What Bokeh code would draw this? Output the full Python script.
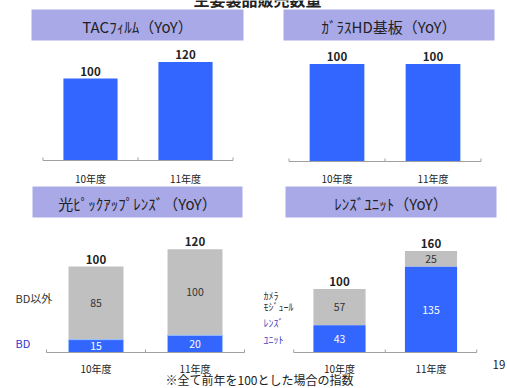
from bokeh.plotting import figure
from bokeh.models import Range1d
from bokeh.embed import file_html
from bokeh.resources import INLINE
from bokeh.core.properties import value

W, H = 507, 388
FONT = "Noto Sans CJK JP"

# ---------------- data ----------------
categories = ["10年度", "11年度"]
tac_values = [100, 120]
glass_values = [100, 100]
pickup_bd = [15, 20]
pickup_other = [85, 100]
pickup_total = [100, 120]
lens_unit = [43, 135]
camera_module = [57, 25]
lens_total = [100, 160]

panel_titles = ["TACﾌｨﾙﾑ（YoY）", "ｶﾞﾗｽHD基板（YoY）", "光ﾋﾟｯｸｱｯﾌﾟﾚﾝｽﾞ（YoY）", "ﾚﾝｽﾞﾕﾆｯﾄ（YoY）"]
main_title = "主要製品販売数量"
footnote = "※全て前年を100とした場合の指数"
page_number = "19"
pickup_series = ["BD以外", "BD"]
lens_series = [["ｶﾒﾗ", "ﾓｼﾞｭｰﾙ"], ["ﾚﾝｽﾞ", "ﾕﾆｯﾄ"]]

BLUE = "#3366ff"
GRAY = "#c0c0c0"
HEAD = "#a9a9e8"
TXT = "#222222"

p = figure(width=W, height=H, x_range=Range1d(0, W), y_range=Range1d(H, 0),
           output_backend="svg", toolbar_location=None, min_border=0)
p.axis.visible = False
p.grid.visible = False
p.outline_line_color = None
p.background_fill_color = "white"
p.border_fill_color = "white"

# panel layout: (first bar centre px, second bar centre px, baseline px from top, px per unit)
layout = {
    "p1": (90, 185, 160, 0.82),
    "p2": (336.5, 432.5, 161, 0.975),
    "p3": (95.5, 194.5, 352, 0.86),
    "p4": (339, 430.5, 352, 0.635),
}
for name, (c0, c1, base, s) in layout.items():
    u = c1 - c0
    xs = -c0 / u
    p.extra_x_ranges[name] = Range1d(xs, xs + W / u)
    p.extra_y_ranges[name] = Range1d(-(H - base) / s, base / s)

# headers (decoration in page pixels)
headers = [(31, 243, 9, 40), (283, 494, 9, 40), (32, 242, 186, 217), (285, 496, 186, 217)]
p.quad(left=[h[0] for h in headers], right=[h[1] for h in headers],
       top=[h[2] for h in headers], bottom=[h[3] for h in headers],
       fill_color=HEAD, line_color=None)
p.text(x=[(h[0] + h[1]) / 2 for h in headers], y=[(h[2] + h[3]) / 2 + 1 for h in headers],
       text=panel_titles, text_font=value(FONT), text_font_size="15px",
       text_align="center", text_baseline="middle", text_color=TXT)

p.text(x=[257], y=[-2], text=[main_title], text_font=value(FONT), text_font_size="16px",
       text_font_style="bold", text_align="center", text_baseline="middle", text_color=TXT)
p.text(x=[259], y=[379], text=[footnote], text_font=value(FONT), text_font_size="12px",
       text_align="center", text_baseline="middle", text_color=TXT)
p.text(x=[492], y=[364], text=[page_number], text_font=value(FONT), text_font_size="11.5px",
       text_align="left", text_baseline="middle", text_color=TXT)

xi = list(range(len(categories)))


def axis_and_ticks(name, scale, off):
    kw = dict(x_range_name=name, y_range_name=name)
    p.segment(x0=[-0.5], x1=[1.5], y0=[0], y1=[0], line_color="#a0a0a0", line_width=1, **kw)
    p.segment(x0=[-0.5, 0.5, 1.5], x1=[-0.5, 0.5, 1.5], y0=[0] * 3, y1=[3 / scale] * 3,
              line_color="#a0a0a0", line_width=1, **kw)
    p.text(x=xi, y=[0] * 2, text=categories, y_offset=off, text_font=value(FONT),
           text_font_size="10px", text_align="center", text_baseline="middle",
           text_color=TXT, **kw)


def top_labels(name, totals):
    p.text(x=xi, y=totals, text=[str(v) for v in totals], y_offset=-3,
           text_font=value(FONT), text_font_size="11.5px", text_font_style="bold",
           text_align="center", text_baseline="bottom", text_color=TXT,
           x_range_name=name, y_range_name=name)


def inner_labels(name, bottoms, tops, color):
    mids = [(b + t) / 2 for b, t in zip(bottoms, tops)]
    p.text(x=xi, y=mids, text=[str(t - b) for b, t in zip(bottoms, tops)],
           text_font=value(FONT), text_font_size="10.5px", text_align="center",
           text_baseline="middle", text_color=color, x_range_name=name, y_range_name=name)


# Panel 1: TAC film
p.vbar(x=xi, top=tac_values, bottom=0, width=0.57, fill_color=BLUE, line_color=None,
       x_range_name="p1", y_range_name="p1")
axis_and_ticks("p1", layout["p1"][3], 18)
top_labels("p1", tac_values)

# Panel 2: glass HD substrate
p.vbar(x=xi, top=glass_values, bottom=0, width=0.57, fill_color=BLUE, line_color=None,
       x_range_name="p2", y_range_name="p2")
axis_and_ticks("p2", layout["p2"][3], 17)
top_labels("p2", glass_values)

# Panel 3: optical pickup lens (stacked)
p3_other_top = [b + o for b, o in zip(pickup_bd, pickup_other)]
p.vbar(x=xi, bottom=pickup_bd, top=p3_other_top, width=0.555, fill_color=GRAY,
       line_color=None, x_range_name="p3", y_range_name="p3")
p.vbar(x=xi, bottom=0, top=pickup_bd, width=0.555, fill_color=BLUE,
       line_color="#9cc3ff", line_width=1, x_range_name="p3", y_range_name="p3")
axis_and_ticks("p3", layout["p3"][3], 16)
top_labels("p3", pickup_total)
inner_labels("p3", pickup_bd, p3_other_top, "#333333")
inner_labels("p3", [0, 0], pickup_bd, "white")
p.text(x=[15], y=[297], text=[pickup_series[0]], text_font=value(FONT), text_font_size="11px",
       text_align="left", text_baseline="middle", text_color="#333333")
p.text(x=[15], y=[342], text=[pickup_series[1]], text_font=value(FONT), text_font_size="11px",
       text_align="left", text_baseline="middle", text_color="#3333cc")

# Panel 4: lens unit (stacked)
p4_cam_top = [l + c for l, c in zip(lens_unit, camera_module)]
p.vbar(x=xi, bottom=lens_unit, top=p4_cam_top, width=0.57, fill_color=GRAY,
       line_color=None, x_range_name="p4", y_range_name="p4")
p.vbar(x=xi, bottom=0, top=lens_unit, width=0.57, fill_color=BLUE,
       line_color=None, x_range_name="p4", y_range_name="p4")
axis_and_ticks("p4", layout["p4"][3], 16)
top_labels("p4", lens_total)
inner_labels("p4", lens_unit, p4_cam_top, "#333333")
inner_labels("p4", [0, 0], lens_unit, "white")
p.text(x=[263, 263], y=[295, 306], text=lens_series[0], text_font=value(FONT),
       text_font_size="10px", text_align="left", text_baseline="middle", text_color="#333333")
p.text(x=[263, 263], y=[322, 339], text=lens_series[1], text_font=value(FONT),
       text_font_size="10px", text_align="left", text_baseline="middle", text_color="#4040c0")

open("out.html", "w").write(file_html(p, INLINE))
